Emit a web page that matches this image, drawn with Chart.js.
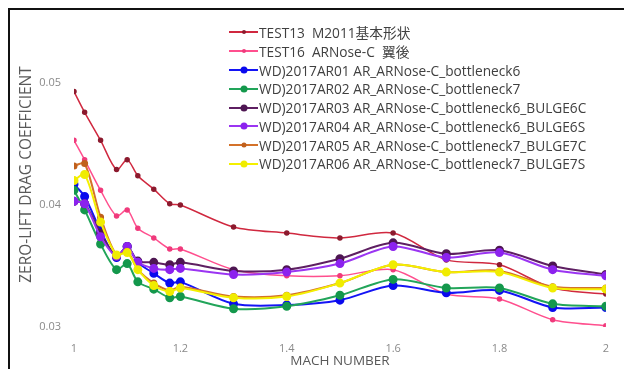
<!DOCTYPE html>
<html>
<head>
<meta charset="utf-8">
<script src="https://cdn.jsdelivr.net/npm/chart.js@4"></script>
<style>
  html, body { margin: 0; padding: 0; background: #fff; }
  #wrap { position: relative; width: 624px; height: 369px; overflow: hidden; }
  #frame { position: absolute; left: 8px; top: 8px; width: 640px; height: 400px;
           border-top: 2px solid #111; border-left: 2px solid #111; }
  #legend { position: absolute; left: 229px; top: 23px; font: 13.7px 'Open Sans', 'Noto Sans CJK JP', sans-serif;
            color: #404040; }
  .row { height: 18.8px; display: flex; align-items: center; white-space: pre; }
  .sw { position: relative; width: 29px; height: 2px; margin-right: 1px; }
  .sw i { position: absolute; left: 50%; top: 50%; transform: translate(-50%, -50%); border-radius: 50%; }
</style>
</head>
<body>
<div id="wrap">
  <canvas id="dragChart" width="624" height="369"></canvas>
  <div id="frame"></div>
  <div id="legend"></div>
</div>
<script>
// Mach numbers (x)
const mach = [1.0, 1.02, 1.05, 1.08, 1.1, 1.12, 1.15, 1.18, 1.2, 1.3, 1.4, 1.5, 1.6, 1.7, 1.8, 1.9, 2.0];

// Zero-lift drag coefficient per configuration
const test13 = [0.0493, 0.0476, 0.0453, 0.0429, 0.0437, 0.0424, 0.0413, 0.0401, 0.0400, 0.0382, 0.0377, 0.0373, 0.0377, 0.0355, 0.0351, 0.0332, 0.0327];
const test16 = [0.0453, 0.0437, 0.0412, 0.0391, 0.0396, 0.0381, 0.0373, 0.0364, 0.0364, 0.0347, 0.0342, 0.0342, 0.0347, 0.0327, 0.0323, 0.0306, 0.0301];
const ar01 = [0.0417, 0.0407, 0.0379, 0.0357, 0.0366, 0.0353, 0.0344, 0.0336, 0.0337, 0.0319, 0.0318, 0.0322, 0.0334, 0.0328, 0.0330, 0.0316, 0.0316];
const ar02 = [0.0412, 0.0396, 0.0368, 0.0347, 0.0352, 0.0337, 0.0331, 0.0324, 0.0325, 0.0315, 0.0317, 0.0326, 0.0339, 0.0332, 0.0332, 0.0319, 0.0317];
const ar03 = [0.0403, 0.0401, 0.0377, 0.0358, 0.0366, 0.0354, 0.0353, 0.0351, 0.0353, 0.0346, 0.0347, 0.0356, 0.0369, 0.0360, 0.0363, 0.0350, 0.0343];
const ar04 = [0.0403, 0.0401, 0.0374, 0.0358, 0.0366, 0.0353, 0.0348, 0.0347, 0.0348, 0.0343, 0.0345, 0.0352, 0.0366, 0.0357, 0.0361, 0.0347, 0.0342];
const ar05 = [0.0432, 0.0434, 0.0390, 0.0359, 0.0362, 0.0347, 0.0336, 0.0330, 0.0333, 0.0325, 0.0326, 0.0336, 0.0351, 0.0345, 0.0346, 0.0333, 0.0332];
const ar06 = [0.0420, 0.0425, 0.0386, 0.0359, 0.0361, 0.0347, 0.0334, 0.0329, 0.0332, 0.0324, 0.0325, 0.0336, 0.0351, 0.0345, 0.0345, 0.0332, 0.0331];

const seriesNames = [
    'TEST13  M2011基本形状',
    'TEST16  ARNose-C  翼後',
    'WD)2017AR01 AR_ARNose-C_bottleneck6',
    'WD)2017AR02 AR_ARNose-C_bottleneck7',
    'WD)2017AR03 AR_ARNose-C_bottleneck6_BULGE6C',
    'WD)2017AR04 AR_ARNose-C_bottleneck6_BULGE6S',
    'WD)2017AR05 AR_ARNose-C_bottleneck7_BULGE7C',
    'WD)2017AR06 AR_ARNose-C_bottleneck7_BULGE7S'
];
const seriesValues = [test13, test16, ar01, ar02, ar03, ar04, ar05, ar06];

const xTicks = [1, 1.2, 1.4, 1.6, 1.8, 2];
const yTicks = [0.03, 0.04, 0.05];

// line colour, marker colour, marker radius, line width
const styles = [
    ['#d0283f', '#8c1a2e', 2, 1.5],
    ['#ff4f8e', '#f03a7c', 2, 1.5],
    ['#1414f5', '#0a0aee', 3.5, 2],
    ['#22a55a', '#14984c', 3.5, 2],
    ['#5e1f62', '#4e1652', 3.5, 2],
    ['#9b35f2', '#8c22ee', 3.5, 2],
    ['#d4722a', '#c0601c', 2.5, 2],
    ['#f4f000', '#f0ec00', 3.5, 2]
];

const datasets = seriesValues.map((vals, i) => ({
    label: seriesNames[i],
    data: vals.map((v, j) => ({ x: mach[j], y: v })),
    borderColor: styles[i][0],
    backgroundColor: styles[i][1],
    pointBorderColor: styles[i][1],
    pointBackgroundColor: styles[i][1],
    pointRadius: styles[i][2],
    borderWidth: styles[i][3],
    tension: 0.3,
    order: seriesValues.length - i   // later series drawn on top, like the original
}));

const ctx = document.getElementById('dragChart').getContext('2d');
const myChart = new Chart(ctx, {
    type: 'line',
    data: { datasets: datasets },
    options: {
        responsive: false,
        animation: false,
        layout: { padding: { left: 8, top: 22, right: 11, bottom: 0 } },
        plugins: {
            legend: { display: false },
            tooltip: { enabled: false }
        },
        scales: {
            x: {
                type: 'linear',
                min: 1,
                max: 2,
                afterFit: (axis) => { axis.height = 42; },
                afterBuildTicks: (axis) => { axis.ticks = xTicks.map(v => ({ value: v })); },
                grid: { display: false, drawTicks: false },
                border: { display: false },
                ticks: {
                    padding: 15,
                    color: '#8a8a8a',
                    font: { family: 'Open Sans', size: 11 },
                    callback: (v) => String(v)
                },
                title: {
                    display: true,
                    text: 'MACH NUMBER',
                    color: '#595959',
                    font: { family: 'Open Sans', size: 13.5 },
                    padding: { top: 0, bottom: 0 }
                }
            },
            y: {
                min: 0.03,
                max: 0.055,
                afterFit: (axis) => { axis.width = 66; },
                afterBuildTicks: (axis) => { axis.ticks = yTicks.map(v => ({ value: v })); },
                grid: { display: false, drawTicks: false },
                border: { display: false },
                ticks: {
                    padding: 13,
                    color: '#8a8a8a',
                    font: { family: 'Open Sans', size: 11 },
                    callback: (v) => v.toFixed(2)
                },
                title: {
                    display: true,
                    text: 'ZERO-LIFT DRAG COEFFICIENT',
                    color: '#595959',
                    font: { family: 'Open Sans', size: 15.5 },
                    padding: { top: 9, bottom: 0 }
                }
            }
        }
    }
});

// Legend drawn as HTML, built from the chart's datasets
const legend = document.getElementById('legend');
myChart.data.datasets.forEach((ds) => {
    const row = document.createElement('div');
    row.className = 'row';
    const sw = document.createElement('span');
    sw.className = 'sw';
    sw.style.background = ds.borderColor;
    const dot = document.createElement('i');
    const d = ds.pointRadius * 2;
    dot.style.width = d + 'px';
    dot.style.height = d + 'px';
    dot.style.background = ds.pointBackgroundColor;
    sw.appendChild(dot);
    row.appendChild(sw);
    row.appendChild(document.createTextNode(ds.label));
    legend.appendChild(row);
});
</script>
</body>
</html>
